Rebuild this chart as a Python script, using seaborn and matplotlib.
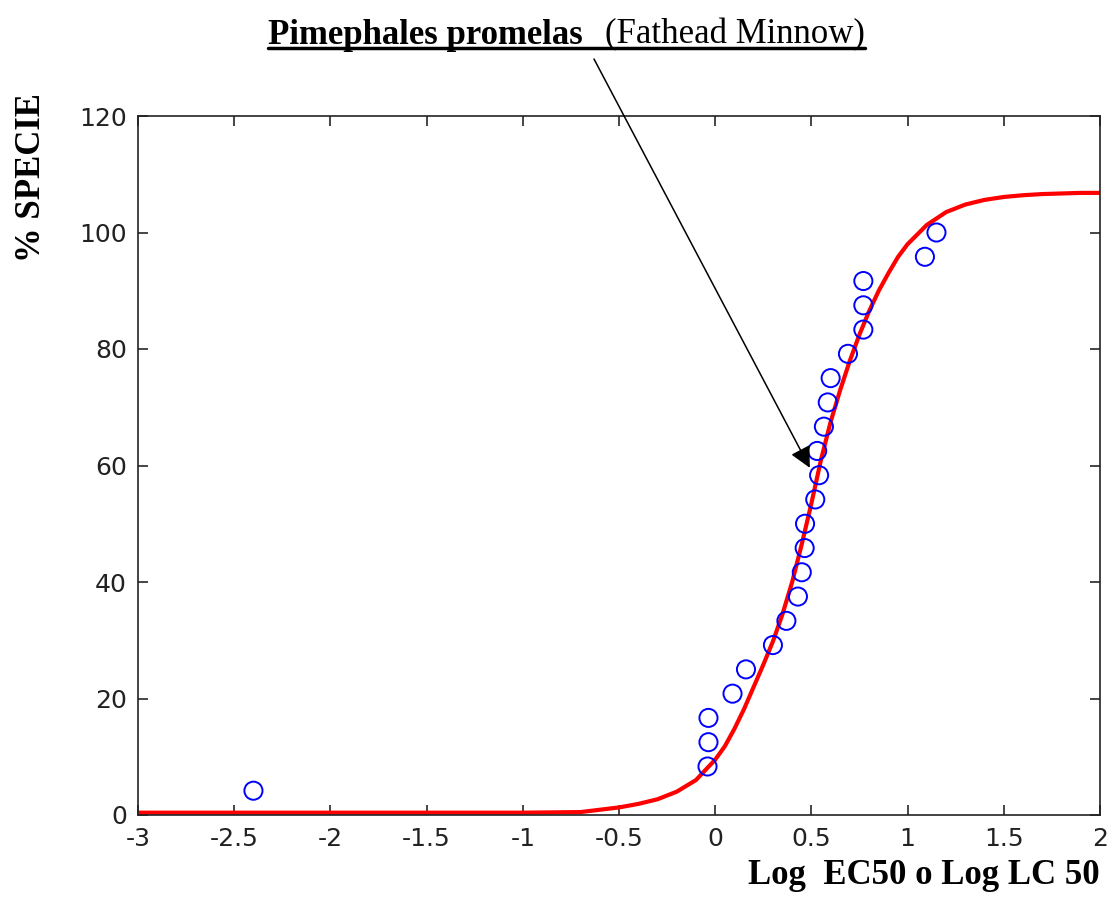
import numpy as np
import pandas as pd
import matplotlib
matplotlib.use("Agg")
import matplotlib.pyplot as plt
from matplotlib.lines import Line2D
import seaborn as sns

# observed species points (log EC50 / LC50 vs cumulative % of species)
obs_x = [-2.40, -0.04, -0.035, -0.035, 0.09, 0.16, 0.30, 0.37, 0.43, 0.45, 0.465, 0.467,
         0.52, 0.54, 0.53, 0.565, 0.585, 0.60, 0.69, 0.77, 0.77, 0.77, 1.09, 1.15]
obs_y = [4.17, 8.33, 12.5, 16.67, 20.83, 25.0, 29.17, 33.33, 37.5, 41.67, 45.83, 50.0,
         54.17, 58.33, 62.5, 66.67, 70.83, 75.0, 79.17, 83.33, 87.5, 91.67, 95.83, 100.0]

# fitted curve
fit_x = [-3.0, -1.0, -0.7, -0.6, -0.5, -0.4, -0.3, -0.2, -0.1, 0.0, 0.05, 0.1, 0.15, 0.2,
         0.25, 0.3, 0.35, 0.4, 0.45, 0.5, 0.55, 0.6, 0.65, 0.7, 0.75, 0.8, 0.85, 0.9, 0.95,
         1.0, 1.1, 1.2, 1.3, 1.4, 1.5, 1.6, 1.7, 1.8, 1.9, 2.0]
fit_y = [0.4, 0.4, 0.5, 0.9, 1.3, 1.9, 2.7, 4.0, 6.0, 9.5, 11.8, 14.8, 18.2, 22.0,
         25.8, 29.8, 34.5, 40.0, 46.5, 53.5, 61.0, 67.5, 73.0, 78.0, 82.5, 86.5, 90.0, 93.0, 95.8,
         98.0, 101.3, 103.5, 104.8, 105.6, 106.1, 106.4, 106.6, 106.7, 106.8, 106.8]

x_ticks = [-3, -2.5, -2, -1.5, -1, -0.5, 0, 0.5, 1, 1.5, 2]
x_ticklabels = ["-3", "-2.5", "-2", "-1.5", "-1", "-0.5", "0", "0.5", "1", "1.5", "2"]
y_ticks = [0, 20, 40, 60, 80, 100, 120]

sns.set_style("ticks")
plt.rcParams['font.family'] = ['DejaVu Sans']

W, H = 1112, 923
fig = plt.figure(figsize=(W / 100, H / 100), dpi=100)
ax = fig.add_axes([138 / W, 1 - 815 / H, 962 / W, 699 / H])

obs = pd.DataFrame({"x": obs_x, "y": obs_y})
fit = pd.DataFrame({"x": fit_x, "y": fit_y})

sns.lineplot(data=fit, x="x", y="y", ax=ax, color="#ff0000", lw=3, sort=False, zorder=2)
sns.scatterplot(data=obs, x="x", y="y", ax=ax, s=170, marker="o",
                facecolor="none", edgecolor="#0000ff", linewidth=1.4, zorder=3)

ax.set_xlim(-3, 2)
ax.set_ylim(0, 120)
ax.set_xticks(x_ticks)
ax.set_xticklabels(x_ticklabels)
ax.set_yticks(y_ticks)
ax.set_xlabel("")
ax.set_ylabel("")
ax.tick_params(direction="in", length=7, width=1.2, top=True, right=True,
               labelsize=18, labelcolor="#222222")
ax.tick_params(axis="x", pad=9)
ax.tick_params(axis="y", pad=8)
for sp in ax.spines.values():
    sp.set_visible(True)
    sp.set_color("#222222")
    sp.set_linewidth(1.2)

serif = ["Liberation Serif", "DejaVu Serif"]

# axis labels
fig.text(32 / W, 1 - 178 / H, "% SPECIE", rotation=90, ha="center", va="center",
         fontsize=25, fontweight="bold", family=serif, color="black")
fig.text(1100 / W, 1 - 876 / H, "Log  EC50 o Log LC 50", ha="right", va="center",
         fontsize=25, fontweight="bold", family=serif, color="black")

# title with underline
t1 = fig.text(268 / W, 1 - 35 / H, "Pimephales promelas", ha="left", va="center",
              fontsize=25, fontweight="bold", family=serif, color="black")
fig.canvas.draw()
r = fig.canvas.get_renderer()
b1 = t1.get_window_extent(r)
t2 = fig.text((b1.x1 + 22) / W, 1 - 35 / H, "(Fathead Minnow)", ha="left", va="center",
              fontsize=25, family=serif, color="black")
fig.canvas.draw()
b2 = t2.get_window_extent(r)
fig.add_artist(Line2D([b1.x0 / W, b2.x1 / W], [1 - 48 / H, 1 - 48 / H],
                      transform=fig.transFigure, color="black", lw=2.5))

# arrow pointing at the species on the curve
ax.annotate("", xy=(0.492, 59.6), xycoords="data",
            xytext=(594 / W, 1 - 59 / H), textcoords="figure fraction",
            arrowprops=dict(arrowstyle="-|>", color="black", lw=1.1,
                            mutation_scale=32, shrinkA=0, shrinkB=0),
            annotation_clip=False)

fig.savefig("out.png", dpi=100)
